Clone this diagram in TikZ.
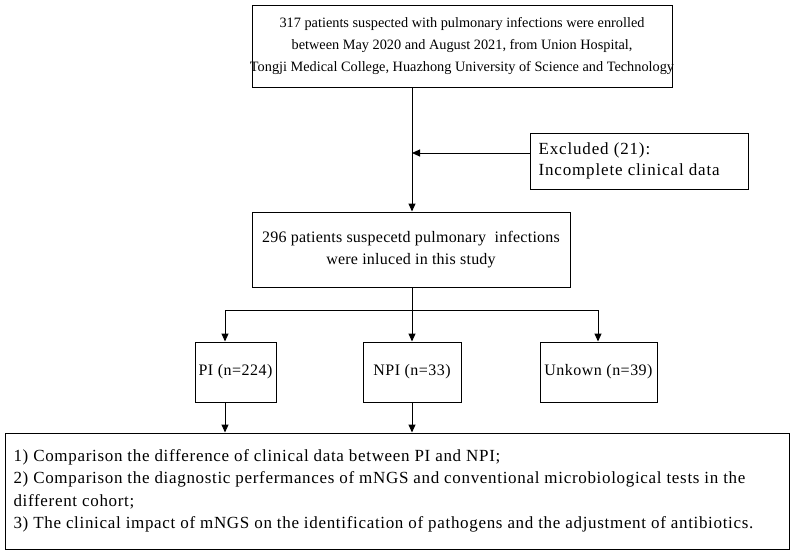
\documentclass[tikz,border=0pt]{standalone}
\usepackage{fontspec}
\setmainfont{Liberation Serif}
\usetikzlibrary{arrows.meta}
\begin{document}
\begin{tikzpicture}[x=1pt,y=-1pt,
  bx/.style={draw,line width=1pt,inner sep=0pt},
  txt/.style={font=\fontsize{15}{21}\selectfont,align=center},
  arr/.style={line width=1pt,-{Triangle[length=8pt,width=7pt]}},
  ln/.style={line width=1pt}]
\useasboundingbox (0,0) rectangle (794,554);
\node[bx,minimum width=420,minimum height=82] (top) at (462,46) {};
\node[txt,font=\fontsize{14.3}{22}\selectfont] at (top) {317 patients suspected with pulmonary infections were enrolled\\between May 2020 and August 2021, from Union Hospital,\\Tongji Medical College, Huazhong University of Science and Technology};
\node[bx,minimum width=218,minimum height=56] (exc) at (639,161) {};
\node[txt,align=left,anchor=west,font=\fontsize{17}{21}\selectfont\addfontfeature{LetterSpace=5}] at (535,161) {Excluded (21):\\Incomplete clinical data};
\node[bx,minimum width=318,minimum height=75] (mid) at (411,249.5) {};
\node[txt,font=\fontsize{16}{22}\selectfont\addfontfeature{LetterSpace=1.5}] at (mid) {296 patients suspecetd pulmonary\ \ infections\\were inluced in this study};
\node[bx,minimum width=81,minimum height=60] (pi) at (235.5,372) {};
\node[txt,font=\fontsize{16}{21}\selectfont\addfontfeature{LetterSpace=3}] at (pi) {PI (n=224)};
\node[bx,minimum width=98,minimum height=60] (npi) at (412,372) {};
\node[txt,font=\fontsize{16}{21}\selectfont\addfontfeature{LetterSpace=3}] at (npi) {NPI (n=33)};
\node[bx,minimum width=117,minimum height=60] (unk) at (598.5,372) {};
\node[txt,font=\fontsize{16}{21}\selectfont\addfontfeature{LetterSpace=3}] at (unk) {Unkown (n=39)};
\node[bx,minimum width=784,minimum height=116] (res) at (397,491) {};
\node[txt,align=left,anchor=west,font=\fontsize{17}{22.5}\selectfont\addfontfeature{LetterSpace=4}] at (10,491) {1) Comparison the difference of clinical data between PI and NPI;\\2) Comparison the diagnostic perfermances of mNGS and conventional microbiological tests in the\\different cohort;\\3) The clinical impact of mNGS on the identification of pathogens and the adjustment of antibiotics.};
\coordinate (j) at (412,153);
\draw[arr] (top.south -| j) -- (mid.north -| j);
\draw[arr] (exc.west |- j) -- (j);
\coordinate (b) at (412,310);
\draw[ln] (mid.south -| b) -- (b);
\draw[ln] (225,310) -- (598,310);
\draw[arr] (225,310) -- (pi.north -| 225,0);
\draw[arr] (b) -- (npi.north);
\draw[arr] (598,310) -- (unk.north -| 598,0);
\draw[arr] (pi.south -| 225,0) -- (res.north -| 225,0);
\draw[arr] (npi.south) -- (res.north -| npi.south);
\end{tikzpicture}
\end{document}
